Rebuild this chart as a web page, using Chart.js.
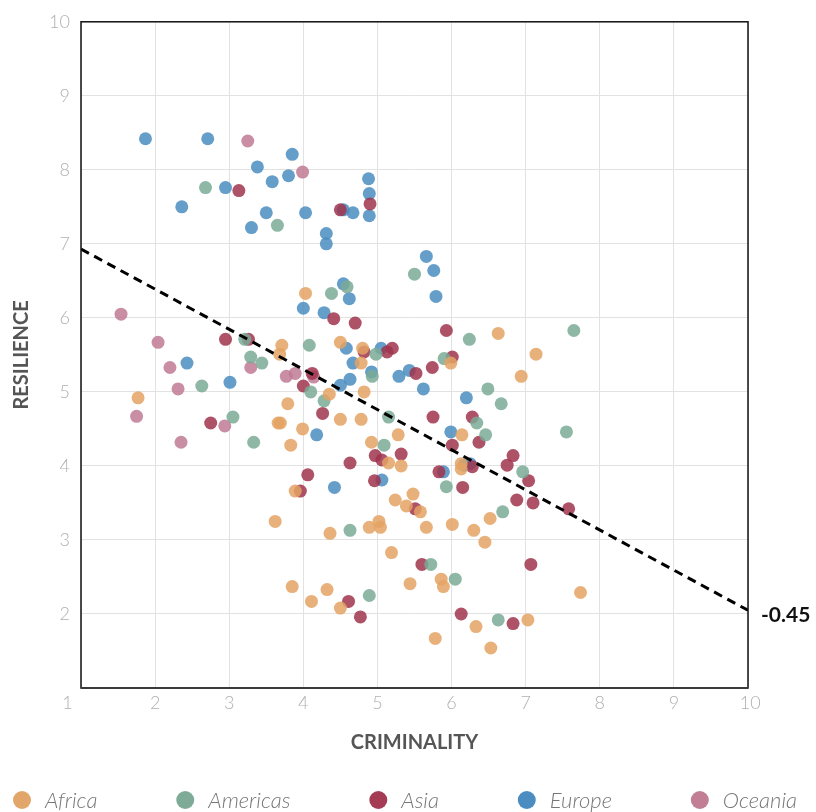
<!DOCTYPE html>
<html><head><meta charset="utf-8">
<script src="https://cdn.jsdelivr.net/npm/chart.js@4.4.1/dist/chart.umd.min.js"></script>
<style>html,body{margin:0;padding:0;background:#fff;}#wrap{width:816px;height:812px;position:relative;}</style>
</head><body><div id="wrap"><canvas id="c" width="816" height="812"></canvas></div>
<script>
const regions = ['Africa','Americas','Asia','Europe','Oceania'];
const pointColors = ['rgba(228,163,100,0.85)','rgba(122,170,150,0.85)','rgba(160,52,78,0.85)','rgba(74,141,192,0.85)','rgba(192,122,148,0.85)'];
const legendColors = ['#e2a56a','#7dab98','#a33c54','#4b8dc0','#c17e95'];

const africaX = [4.03,3.71,3.68,1.77,3.79,3.66,3.69,3.99,3.83,4.35,4.50,4.80,4.78,4.82,4.50,4.78,4.92,5.28,5.15,5.32,5.99,6.14,6.63,7.14,6.94,6.13,6.13,3.89,3.62,4.36,3.85,4.11,4.32,5.24,5.48,5.39,5.58,5.02,4.89,5.04,5.66,6.01,6.30,6.52,6.45,5.19,5.44,5.86,5.89,4.50,5.78,6.33,6.53,7.03,7.74];
const africaY = [6.33,5.63,5.51,4.92,4.84,4.58,4.58,4.50,4.28,4.97,5.67,5.59,5.39,5.00,4.63,4.63,4.32,4.42,4.04,4.00,5.39,4.42,5.79,5.51,5.21,4.03,3.96,3.66,3.25,3.09,2.37,2.17,2.33,3.54,3.62,3.46,3.38,3.25,3.17,3.17,3.17,3.21,3.13,3.29,2.97,2.83,2.41,2.47,2.37,2.08,1.67,1.83,1.54,1.92,2.29];

const americasX = [2.68,3.65,5.50,4.59,4.38,3.21,4.08,3.29,3.44,2.63,3.05,3.33,4.10,4.28,4.98,5.90,6.24,4.93,5.15,5.09,6.49,6.67,6.34,6.46,6.96,7.65,7.55,5.93,4.63,5.72,6.05,4.89,6.63,6.69];
const americasY = [7.76,7.25,6.59,6.42,6.33,5.71,5.63,5.47,5.39,5.08,4.66,4.32,5.00,4.88,5.51,5.45,5.71,5.21,4.66,4.28,5.04,4.84,4.58,4.42,3.92,5.83,4.46,3.72,3.13,2.67,2.47,2.25,1.92,3.38];

const asiaX = [3.13,4.50,4.90,2.95,3.26,4.12,4.00,4.26,2.75,4.06,3.96,4.41,4.70,5.93,4.82,5.13,5.20,5.52,5.74,6.01,5.75,6.28,6.01,6.37,4.97,5.06,5.32,4.63,5.83,6.28,6.75,6.83,7.04,4.96,6.15,6.88,7.10,7.58,5.51,5.60,7.07,4.61,4.77,6.13,6.83];
const asiaY = [7.72,7.46,7.54,5.71,5.71,5.25,5.08,4.71,4.58,3.88,3.66,5.99,5.93,5.83,5.54,5.54,5.59,5.25,5.33,5.47,4.66,4.66,4.28,4.32,4.14,4.08,4.16,4.04,3.92,3.99,4.01,4.14,3.80,3.80,3.71,3.54,3.50,3.42,3.42,2.67,2.67,2.17,1.96,2.00,1.87];

const europeX = [1.87,2.71,3.38,3.85,2.95,2.36,3.58,3.80,3.50,3.30,4.03,4.31,4.31,4.88,4.89,4.89,4.54,4.67,5.66,5.76,5.79,4.54,4.62,4.00,4.28,2.43,3.01,4.58,5.05,4.67,4.92,4.63,4.50,5.29,5.43,5.62,6.20,5.99,6.17,6.25,5.89,5.06,4.18,4.42];
const europeY = [8.42,8.42,8.04,8.21,7.76,7.50,7.84,7.92,7.42,7.22,7.42,7.14,7.00,7.88,7.68,7.38,7.46,7.42,6.83,6.64,6.29,6.46,6.26,6.13,6.07,5.39,5.13,5.59,5.59,5.39,5.27,5.17,5.09,5.21,5.29,5.04,4.92,4.46,4.01,4.03,3.92,3.81,4.42,3.71];

const oceaniaX = [3.25,3.99,1.54,2.04,2.20,2.31,1.75,2.35,2.94,3.29,3.77,3.89,4.14];
const oceaniaY = [8.39,7.97,6.05,5.67,5.33,5.04,4.67,4.32,4.54,5.33,5.21,5.25,5.20];

const trendX = [1, 10];
const trendY = [6.93, 2.05];
const corrLabel = '-0.45';

const xTicks = [1,2,3,4,5,6,7,8,9,10];
const yTicks = [1,2,3,4,5,6,7,8,9,10];
const xTitle = 'CRIMINALITY';
const yTitle = 'RESILIENCE';

const seriesX = [africaX, americasX, asiaX, europeX, oceaniaX];
const seriesY = [africaY, americasY, asiaY, europeY, oceaniaY];

const zip = (xs, ys) => xs.map((x, i) => ({x, y: ys[i]}));

const datasets = regions.map((r, i) => ({
  label: r,
  type: 'scatter',
  data: zip(seriesX[i], seriesY[i]),
  backgroundColor: pointColors[i],
  borderWidth: 0,
  pointRadius: 6.5,
  pointHoverRadius: 6.5,
  order: 2
}));
datasets.push({
  label: 'trend',
  type: 'line',
  data: zip(trendX, trendY),
  borderColor: '#000',
  borderWidth: 3,
  borderDash: [9, 6],
  pointRadius: 0,
  fill: false,
  order: 1
});

const framePlugin = {
  id: 'frame',
  afterDraw(chart) {
    const {ctx, chartArea: a} = chart;
    ctx.save();
    ctx.strokeStyle = '#111';
    ctx.lineWidth = 1.5;
    ctx.strokeRect(a.left, a.top, a.right - a.left, a.bottom - a.top);
    ctx.strokeStyle = '#3a3a3a';
    ctx.lineWidth = 2;
    ctx.beginPath(); ctx.moveTo(a.left, a.bottom); ctx.lineTo(a.right, a.bottom); ctx.stroke();
    const ys = chart.scales.y;
    ctx.fillStyle = '#111';
    ctx.font = 'bold 21px Lato';
    ctx.textAlign = 'left';
    ctx.textBaseline = 'middle';
    ctx.fillText(corrLabel, a.right + 13, ys.getPixelForValue(trendY[1]) + 5);
    ctx.font = 'italic 300 22px Lato';
    const widths = regions.map(r => ctx.measureText(r).width);
    const r = 9, gapText = 23, L = 13, R = 797;
    const total = widths.reduce((s, w) => s + r + gapText + w, 0);
    const gap = (R - L - total) / (regions.length - 1);
    let x = L;
    const cy = 800;
    regions.forEach((name, i) => {
      ctx.fillStyle = legendColors[i];
      ctx.beginPath(); ctx.arc(x + r, cy, r, 0, Math.PI * 2); ctx.fill();
      ctx.fillStyle = '#777';
      ctx.fillText(name, x + r + gapText, cy + 1);
      x += r + gapText + widths[i] + gap;
    });
    ctx.restore();
  }
};

const tickFont = {family: 'Lato', size: 18, weight: '300'};
const titleFont = {family: 'Lato', size: 20, weight: 'bold'};

new Chart(document.getElementById('c'), {
  data: {datasets},
  options: {
    responsive: false,
    animation: false,
    devicePixelRatio: 1,
    events: [],
    layout: {padding: {top: 19, right: 68, bottom: 44, left: 0}},
    plugins: {legend: {display: false}, tooltip: {enabled: false}},
    scales: {
      x: {
        type: 'linear', min: 1, max: 10,
        afterBuildTicks: s => { s.ticks = xTicks.map(v => ({value: v})); },
        afterFit: s => { s.height = 80; },
        grid: {color: '#e2e2e2', lineWidth: 1, drawTicks: false},
        border: {display: false},
        ticks: {
          font: tickFont, color: '#b0b0b0', padding: 4, maxRotation: 0, autoSkip: false,
          callback: v => v === 1 ? '1\u2003\u2003' : (v === 10 ? '\u2009\u200910' : String(v))
        },
        title: {display: true, text: xTitle, font: titleFont, color: '#555', padding: {top: 0, bottom: 13}}
      },
      y: {
        type: 'linear', min: 1, max: 10,
        afterBuildTicks: s => { s.ticks = yTicks.map(v => ({value: v})); },
        afterFit: s => { s.width = 81; },
        grid: {color: '#e2e2e2', lineWidth: 1, drawTicks: false},
        border: {display: false},
        ticks: {font: tickFont, color: '#b0b0b0', padding: 11, callback: v => v === 1 ? '' : String(v)},
        title: {display: true, text: yTitle, font: titleFont, color: '#555', padding: {top: 10, bottom: 0}}
      }
    }
  },
  plugins: [framePlugin]
});
</script>
</body></html>
